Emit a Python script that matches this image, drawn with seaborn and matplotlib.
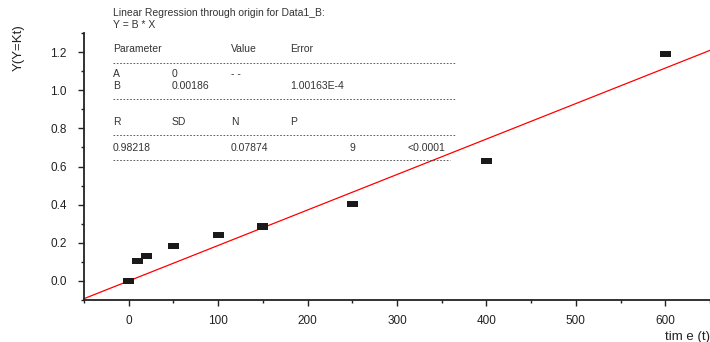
import numpy as np
import pandas as pd
import seaborn as sns
import matplotlib.pyplot as plt
from matplotlib.ticker import MultipleLocator

# data
time_t = [0, 10, 20, 50, 100, 150, 250, 400, 600]
y_kt = [0.0, 0.105, 0.13, 0.185, 0.24, 0.285, 0.405, 0.63, 1.19]
slope_b = 0.00186
fit_range = [-50, 650]

# regression report text
title_lines = ["Linear Regression through origin for Data1_B:", "Y = B * X"]
param_header = ["Parameter", "Value", "Error"]
param_rows = [["A", "0", "- -"], ["B", "0.00186", "1.00163E-4"]]
stat_header = ["R", "SD", "N", "P"]
stat_values = ["0.98218", "0.07874", "9", "<0.0001"]

sns.set_style("ticks")
plt.rcParams['font.family'] = ['Liberation Sans', 'DejaVu Sans']

df = pd.DataFrame({"t": time_t, "y": y_kt})
fit = pd.DataFrame({"t": fit_range, "y": [slope_b * v for v in fit_range]})

fig = plt.figure(figsize=(7.1, 3.42), dpi=100)
ax = fig.add_axes([84 / 710, 1 - 300 / 342, 626 / 710, 267 / 342])

sns.lineplot(data=fit, x="t", y="y", color="red", linewidth=0.9, ax=ax)
rect = [(-1, -0.55), (1, -0.55), (1, 0.55), (-1, 0.55), (-1, -0.55)]
sns.scatterplot(data=df, x="t", y="y", marker=rect, s=65, color="#1a1a1a",
                edgecolor="none", ax=ax, zorder=3)

ax.set_xlim(-50, 650)
ax.set_ylim(-0.1, 1.3)
ax.xaxis.set_major_locator(MultipleLocator(100))
ax.xaxis.set_minor_locator(MultipleLocator(50))
ax.yaxis.set_major_locator(MultipleLocator(0.2))
ax.yaxis.set_minor_locator(MultipleLocator(0.1))
ax.set_xticks([0, 100, 200, 300, 400, 500, 600])
ax.set_yticks([0.0, 0.2, 0.4, 0.6, 0.8, 1.0, 1.2])
ax.set_yticklabels(["0.0", "0.2", "0.4", "0.6", "0.8", "1.0", "1.2"])
ax.tick_params(which="major", length=4.5, width=1, direction="out", labelsize=8.5, colors="#222222")
ax.tick_params(axis="y", which="major", pad=8)
ax.tick_params(axis="x", which="major", pad=6)
ax.tick_params(which="minor", length=2.5, width=1, direction="out", colors="#222222")
sns.despine(ax=ax)
for s in ["left", "bottom"]:
    ax.spines[s].set_linewidth(1.3)
    ax.spines[s].set_color("#222222")

ax.set_xlabel("tim e (t)", fontsize=9.5, ha="right", color="#222222")
ax.xaxis.set_label_coords(1.0, -0.115)
ax.set_ylabel("Y(Y=Kt)", fontsize=9.5, color="#222222")
ax.yaxis.set_label_coords(-0.094, 0.945)

# report block, positions in figure pixels
W, H = 710, 342
def put(txt, x, y):
    fig.text(x / W, 1 - y / H, txt, fontsize=7.5, va="center", ha="left", color="#333333")

def dash(y, x1=113, x2=455):
    fig.add_artist(plt.Line2D([x1 / W, x2 / W], [1 - y / H, 1 - y / H], transform=fig.transFigure,
                              color="#444444", linewidth=0.6, linestyle=(0, (2, 2))))

put(title_lines[0], 113, 13)
put(title_lines[1], 113, 25)
for txt, x in zip(param_header, [113, 231, 290]):
    put(txt, x, 49)
dash(63)
for txt, x in zip(param_rows[0], [113, 172, 231]):
    put(txt, x, 74)
for txt, x in zip(param_rows[1], [113, 172, 290]):
    put(txt, x, 86)
dash(99)
for txt, x in zip(stat_header, [113, 172, 231, 290]):
    put(txt, x, 122)
dash(135)
for txt, x in zip(stat_values, [113, 231, 349, 408]):
    put(txt, x, 148)
dash(160, x2=450)

fig.savefig("out.png", dpi=100)
